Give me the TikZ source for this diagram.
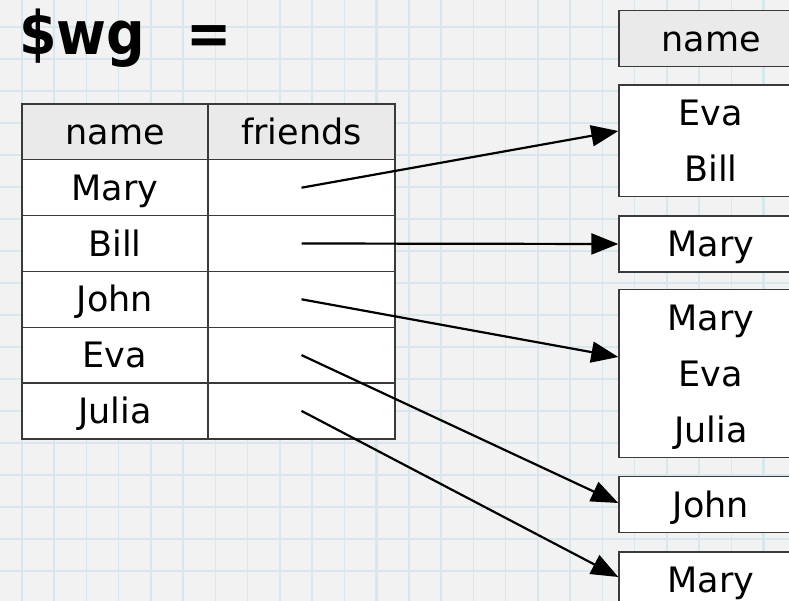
\documentclass[tikz,border=0pt]{standalone}
\usepackage{fontspec}
\setmainfont{DejaVu Sans}
\usetikzlibrary{arrows.meta}
\definecolor{paper}{HTML}{F2F2F2}
\definecolor{gridblue}{RGB}{214,231,238}
\definecolor{headfill}{HTML}{EAEAEA}
\definecolor{rulecol}{HTML}{3A3A3A}
% one text line: a strut that fixes the line pitch and centres the glyphs
\newcommand\lnstrut{\rule[-15.2pt]{0pt}{55.8pt}}
\begin{document}
\begin{tikzpicture}[x=1pt,y=-1pt,
  cell/.style={draw=rulecol, line width=1.4pt, fill=white, inner sep=0pt,
    align=center, font=\fontsize{35}{55.8}\selectfont},
  head/.style={fill=headfill},
  leftcol/.style={minimum width=186pt},
  rightcol/.style={minimum width=187pt},
  listbox/.style={cell, minimum width=184pt},
  link/.style={line width=2.2pt, -{Triangle[length=27pt,width=21pt]}}
]
\useasboundingbox (0,0) rectangle (789,601);
\clip (0,0) rectangle (789,601);
% squared paper
\fill[paper] (0,0) rectangle (789,601);
\foreach \i in {0,...,24}{
  \pgfmathsetmacro\lw{mod(\i,6)==5 ? 2.6 : 1.5}
  \draw[gridblue, line width=\lw pt] (21.75+32.25*\i,0) -- ++(0,601);
}
\foreach \j in {0,...,18}{
  \pgfmathsetmacro\lw{mod(\j,6)==4 ? 2.6 : 1.5}
  \draw[gridblue, line width=\lw pt] (0,27+32*\j) -- ++(789,0);
}

% title
\node[anchor=base west, inner sep=0pt, font=\fontsize{60}{62}\selectfont\bfseries]
  (title) at (19,55) {\scalebox{0.9}[1]{\$wg\hspace{46pt}=}};

% left table
\node[cell, head, leftcol]  (hname) at (115,131.9) {\lnstrut name};
\node[cell, head, rightcol] (hfr)   at (301.5,131.9) {\lnstrut friends};
\node[cell, leftcol]  (n1) at (115,187.7) {\lnstrut Mary};
\node[cell, rightcol] (f1) at (301.5,187.7) {\lnstrut};
\node[cell, leftcol]  (n2) at (115,243.5) {\lnstrut Bill};
\node[cell, rightcol] (f2) at (301.5,243.5) {\lnstrut};
\node[cell, leftcol]  (n3) at (115,299.3) {\lnstrut John};
\node[cell, rightcol] (f3) at (301.5,299.3) {\lnstrut};
\node[cell, leftcol]  (n4) at (115,355.1) {\lnstrut Eva};
\node[cell, rightcol] (f4) at (301.5,355.1) {\lnstrut};
\node[cell, leftcol]  (n5) at (115,410.9) {\lnstrut Julia};
\node[cell, rightcol] (f5) at (301.5,410.9) {\lnstrut};

% friend lists
\node[listbox, head] (rname) at (711,38.5) {\lnstrut name};
\node[listbox] (r1) at (711,141) {\lnstrut Eva\\\lnstrut Bill};
\node[listbox] (r2) at (711,244) {\lnstrut Mary};
\node[listbox] (r3) at (711,373.5) {\lnstrut Mary\\\lnstrut Eva\\\lnstrut Julia};
\node[listbox] (r4) at (711,504.5) {\lnstrut John};
\node[listbox] (r5) at (711,580) {\lnstrut Mary};

% references
\draw[link] (f1.center) -- ([yshift=10pt]r1.west);
\draw[link] (f2.center) -- (r2.west);
\draw[link] (f3.center) -- ([yshift=16.5pt]r3.west);
\draw[link] (f4.center) -- ([yshift=1.5pt]r4.west);
\draw[link] (f5.center) -- ([yshift=3pt]r5.west);
\end{tikzpicture}
\end{document}
